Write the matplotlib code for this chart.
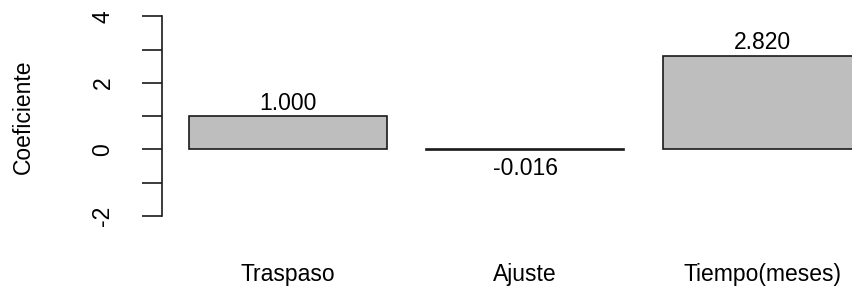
import matplotlib
matplotlib.use("Agg")
import matplotlib.pyplot as plt

categories = ["Traspaso", "Ajuste", "Tiempo(meses)"]
values = [1.000, -0.016, 2.820]
value_labels = ["1.000", "-0.016", "2.820"]
y_ticks = [-2, -1, 0, 1, 2, 3, 4]
y_tick_labels = ["-2", "", "0", "", "2", "", "4"]

plt.rcParams['font.family'] = ['Liberation Sans', 'DejaVu Sans']
W, H = 853, 291
fig = plt.figure(figsize=(W / 100, H / 100), dpi=100)
left_px, right_px = 162, 853
ax = fig.add_axes([left_px / W, 0.2313, (right_px - left_px) / W, 0.7395])

x_centers = [0.7 + 1.2 * i for i in range(len(categories))]
ax.bar(x_centers, values, width=1.0, color="#BEBEBE", edgecolor="#1a1a1a",
       linewidth=1.2, clip_on=True)

ax.set_xlim(0.062, 3.560)
ax.set_ylim(-2.24, 4.24)

for s in ["top", "right", "bottom"]:
    ax.spines[s].set_visible(False)
ax.spines["left"].set_bounds(-2, 4)
ax.spines["left"].set_linewidth(1.2)
ax.spines["left"].set_color("#1a1a1a")
ax.set_xticks([])
ax.set_yticks(y_ticks)
ax.set_yticklabels([])
ax.tick_params(axis="y", length=14.4, width=1.2, color="#1a1a1a")

for t, lab in zip(y_ticks, y_tick_labels):
    if lab:
        ax.annotate(lab, xy=(0, t), xycoords=("axes fraction", "data"),
                    xytext=(-59, 0), textcoords="offset pixels",
                    rotation=90, ha="center", va="center", fontsize=16.5)

for xc, v, lab in zip(x_centers, values, value_labels):
    off = 13 if v >= 0 else -19
    ax.annotate(lab, xy=(xc, v), xycoords="data", xytext=(0, off),
                textcoords="offset pixels", ha="center", va="center",
                fontsize=16.5)

for xc, cat in zip(x_centers, categories):
    ax.annotate(cat, xy=(xc, H - 275), xycoords=("data", "figure pixels"),
                ha="center", va="center", fontsize=16.5, annotation_clip=False)

fig.text(23 / W, (H - 117) / H, "Coeficiente", rotation=90, ha="center",
         va="center", fontsize=16.5)

fig.savefig("out.png", dpi=100)
